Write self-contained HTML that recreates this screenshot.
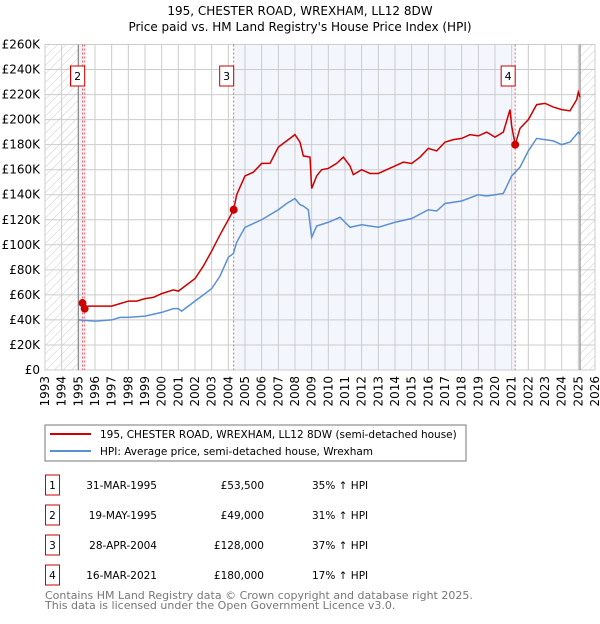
<!DOCTYPE html>
<html><head><meta charset="utf-8"><style>
body{margin:0;background:#fff;width:600px;height:620px;overflow:hidden;font-family:"DejaVu Sans","Liberation Sans",sans-serif}
svg text{font-family:"DejaVu Sans","Liberation Sans",sans-serif}
</style></head><body>
<svg id="chart" width="600" height="620">
<defs><pattern id="hatch" width="6" height="6" patternUnits="userSpaceOnUse" patternTransform="rotate(45)"><line x1="0" y1="0" x2="0" y2="6" stroke="#ccc" stroke-width="1"/></pattern></defs>
<text x="300" y="15" text-anchor="middle" font-size="12">195, CHESTER ROAD, WREXHAM, LL12 8DW</text>
<text x="300" y="31" text-anchor="middle" font-size="12">Price paid vs. HM Land Registry's House Price Index (HPI)</text>
<g id="plot"></g>
<rect x="45" y="425" width="421" height="36" fill="#fff" stroke="#777"/>
<line x1="50" y1="434" x2="91" y2="434" stroke="#cc0000" stroke-width="2"/>
<text x="100" y="438" font-size="10.5">195, CHESTER ROAD, WREXHAM, LL12 8DW (semi-detached house)</text>
<line x1="50" y1="451" x2="91" y2="451" stroke="#5b8fd4" stroke-width="2"/>
<text x="100" y="455" font-size="10.5">HPI: Average price, semi-detached house, Wrexham</text>
<g id="table" font-size="10.5"></g>
<text x="45" y="599" font-size="11" fill="#777">Contains HM Land Registry data © Crown copyright and database right 2025.</text>
<text x="45" y="609" font-size="11" fill="#777">This data is licensed under the Open Government Licence v3.0.</text>
</svg>
<script>
const yearTicks=[1993,1994,1995,1996,1997,1998,1999,2000,2001,2002,2003,2004,2005,2006,2007,2008,2009,2010,2011,2012,2013,2014,2015,2016,2017,2018,2019,2020,2021,2022,2023,2024,2025,2026];
const priceTicks=[0,20,40,60,80,100,120,140,160,180,200,220,240,260];
const redT=[1995.25,1995.3,1995.38,1995.6,1996,1996.5,1997,1997.5,1998,1998.5,1999,1999.5,2000,2000.7,2001,2001.5,2002,2002.5,2003,2003.5,2004,2004.32,2004.5,2005,2005.5,2006,2006.5,2007,2007.5,2008,2008.3,2008.5,2008.9,2009.0,2009.3,2009.6,2010,2010.5,2010.9,2011.3,2011.5,2012,2012.5,2013,2013.5,2014,2014.5,2015,2015.5,2016,2016.5,2017,2017.5,2018,2018.5,2019,2019.5,2020,2020.5,2020.9,2021.0,2021.21,2021.5,2022,2022.5,2023,2023.5,2024,2024.5,2024.9,2025.0,2025.1];
const redV=[53.5,50,49,51,51,51,51,53,55,55,57,58,61,64,63,68,73,83,95,108,120,128,140,155,158,165,165,178,183,188,182,171,170,145,155,160,161,165,170,163,156,160,157,157,160,163,166,165,170,177,175,182,184,185,188,187,190,186,190,208,195,180,193,200,212,213,210,208,207,216,222,218];
const blueT=[1995,1995.5,1996,1997,1997.5,1998,1999,2000,2000.7,2001,2001.2,2002,2002.5,2003,2003.5,2004,2004.3,2004.5,2005,2006,2007,2007.5,2008,2008.3,2008.5,2008.8,2009.0,2009.3,2010,2010.7,2011.3,2012,2013,2014,2015,2016,2016.5,2017,2018,2019,2019.5,2020,2020.5,2021,2021.5,2022,2022.5,2023,2023.5,2024,2024.5,2025,2025.1];
const blueV=[40,39.5,39,40,42,42,43,46,49,49,47,55,60,65,75,90,93,102,114,120,128,133,137,132,131,128,106,115,118,122,114,116,114,118,121,128,127,133,135,140,139,140,141,155,162,175,185,184,183,180,182,190,188];
const saleT=[1995.25,1995.38,2004.32,2021.21];
const saleV=[53.5,49,128,180];
const saleLabels=["1","2","3","4"];
const saleDates=["31-MAR-1995","19-MAY-1995","28-APR-2004","16-MAR-2021"];
const salePrices=["£53,500","£49,000","£128,000","£180,000"];
const saleHpi=["35% ↑ HPI","31% ↑ HPI","37% ↑ HPI","17% ↑ HPI"];
const NS="http://www.w3.org/2000/svg";
const X0=45,X1=595,Y0=370,Y1=44.5;
const xs=t=>X0+(t-1993)/(2026-1993)*(X1-X0);
const ys=v=>Y0-v/260*(Y0-Y1);
const plot=document.getElementById('plot');
function mk(tag,attrs,parent){const e=document.createElementNS(NS,tag);for(const k in attrs)e.setAttribute(k,attrs[k]);(parent||plot).appendChild(e);return e;}
let e;
e=mk('rect',{x:X0,y:Y1,width:X1-X0,height:Y0-Y1,fill:'#fff'});


e=mk('rect',{x:xs(1995),y:Y1,width:xs(1995.38)-xs(1995),height:Y0-Y1,fill:'#eef3fc'});


e=mk('rect',{x:xs(2004.32),y:Y1,width:xs(2021.21)-xs(2004.32),height:Y0-Y1,fill:'#f3f6fd'});


e=mk('rect',{x:X0,y:Y1,width:xs(1995)-X0,height:Y0-Y1,fill:'url(#hatch)'});


e=mk('rect',{x:xs(2025.1),y:Y1,width:X1-xs(2025.1),height:Y0-Y1,fill:'url(#hatch)'});


yearTicks.forEach(y=>{
 e=mk('line',{x1:xs(y),x2:xs(y),y1:Y1,y2:Y0,stroke:'#ccc','stroke-width':1});
 
 
 e=mk('text',{x:0,y:0,'font-size':12,'text-anchor':'end',transform:`translate(${xs(y)+4},${Y0+6}) rotate(-90)`});
 e.textContent=y;
 
 
});
priceTicks.forEach(v=>{
 e=mk('line',{x1:X0,x2:X1,y1:ys(v),y2:ys(v),stroke:'#ccc','stroke-width':1});
 
 
 e=mk('text',{x:40,y:ys(v)+4,'font-size':12,'text-anchor':'end'});
 e.textContent=v===0?'£0':'£'+v+'K';
 
 
});
e=mk('rect',{x:X0,y:Y1,width:X1-X0,height:Y0-Y1,fill:'none',stroke:'#ccc'});


[1995,2025.1].forEach(t=>{
 e=mk('line',{x1:xs(t),x2:xs(t),y1:Y1,y2:Y0,stroke:'#888','stroke-width':1.2});
 
 
});
saleT.forEach((t,i)=>{
 e=mk('line',{x1:xs(t),x2:xs(t),y1:Y1,y2:Y0,stroke:'#f06060','stroke-width':1,'stroke-dasharray':'2,2'});
 
 
});
e=mk('polyline',{points:blueT.map((t,i)=>xs(t)+','+ys(blueV[i])).join(' '),fill:'none',stroke:'#5b8fd4','stroke-width':1.5});


e=mk('polyline',{points:redT.map((t,i)=>xs(t)+','+ys(redV[i])).join(' '),fill:'none',stroke:'#cc0000','stroke-width':1.5});


saleT.forEach((t,i)=>{
 e=mk('circle',{cx:xs(t),cy:ys(saleV[i]),r:4,fill:'#cc0000'});
 
 
});
saleT.forEach((t,i)=>{
 const bx=(i===0?xs(t)-12:xs(t)-14);
 e=mk('rect',{x:bx,y:66,width:14,height:20,fill:'#fff',stroke:'#cc0000'});
 
 
 e=mk('text',{x:bx+7,y:80,'font-size':11,'text-anchor':'middle'});
 e.textContent=saleLabels[i];
 
 
});
const tbl=document.getElementById('table');
saleLabels.forEach((l,i)=>{
 const cy=485+i*30;
 e=mk('rect',{x:45.5,y:cy-10,width:14,height:20,fill:'#fff',stroke:'#cc0000'},tbl);
 
 
 e=mk('text',{x:52.5,y:cy+4,'text-anchor':'middle'},tbl);e.textContent=l;
 
 
 e=mk('text',{x:157,y:cy+4,'text-anchor':'end'},tbl);e.textContent=saleDates[i];
 
 
 e=mk('text',{x:264,y:cy+4,'text-anchor':'end'},tbl);e.textContent=salePrices[i];
 
 
 e=mk('text',{x:312,y:cy+4},tbl);e.textContent=saleHpi[i];
 
 
});
</script>
</body></html>
